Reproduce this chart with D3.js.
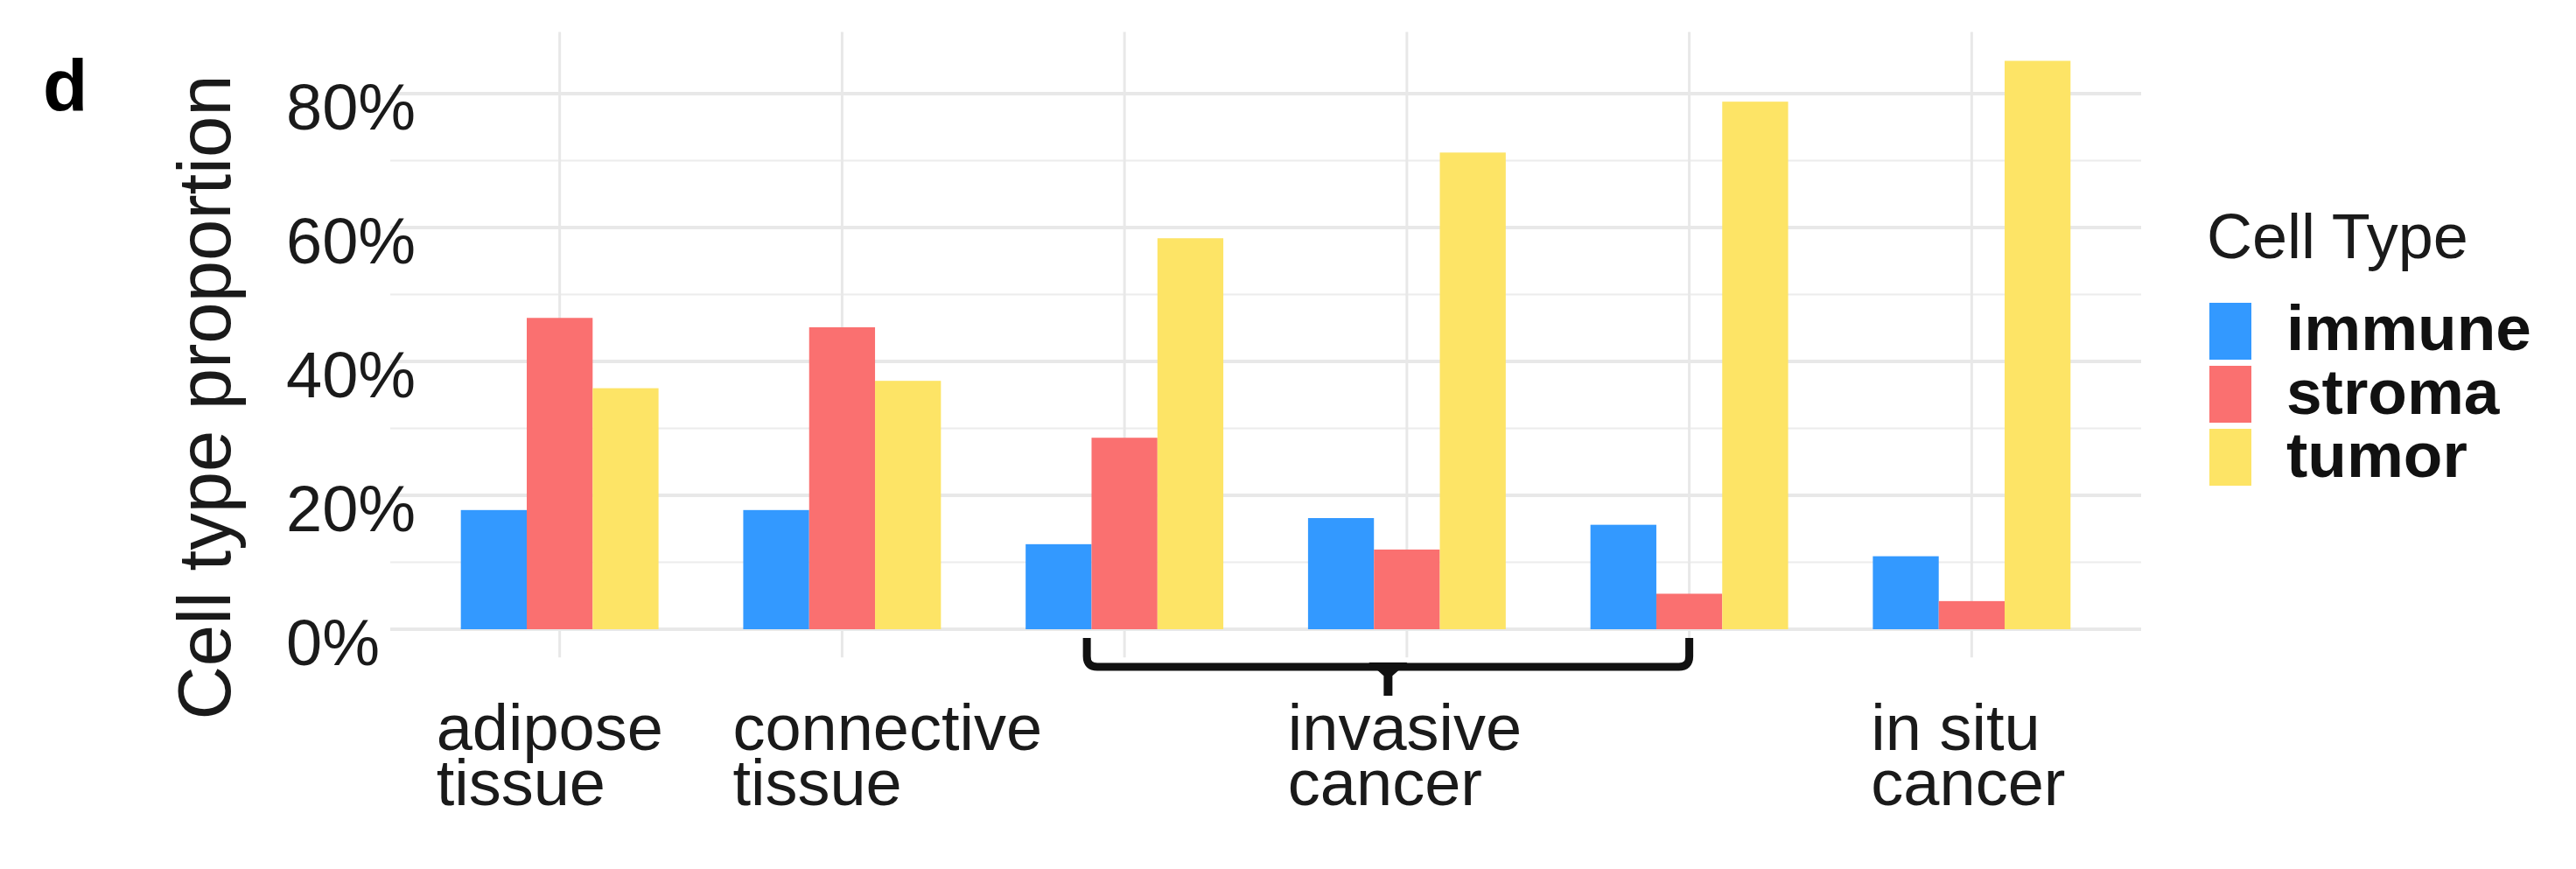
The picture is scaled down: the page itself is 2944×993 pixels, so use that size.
<!DOCTYPE html>
<html><head><meta charset="utf-8">
<script src="https://cdn.jsdelivr.net/npm/d3@7"></script>
<style>html,body{margin:0;padding:0;background:#fff;}svg{display:block;}</style>
</head><body>
<script>
// ---- data ----
const categories = ["adipose tissue", "connective tissue", "invasive cancer 1", "invasive cancer 2", "invasive cancer 3", "in situ cancer"];
const series = ["immune", "stroma", "tumor"];
const immune = [0.178, 0.178, 0.127, 0.166, 0.156, 0.109];
const stroma = [0.465, 0.451, 0.286, 0.119, 0.053, 0.042];
const tumor  = [0.360, 0.371, 0.584, 0.712, 0.788, 0.849];
const colors = ["#3399FF", "#FA7070", "#FDE466"];
const yTicks = [0, 0.2, 0.4, 0.6, 0.8];
const yMinor = [0.1, 0.3, 0.5, 0.7];
const xLabels = [
  {lines: ["adipose", "tissue"], at: "adipose tissue"},
  {lines: ["connective", "tissue"], at: "connective tissue"},
  {lines: ["invasive", "cancer"], at: "invasive cancer 2"},
  {lines: ["in situ", "cancer"], at: "in situ cancer"}
];
const yTitle = "Cell type proportion";
const legendTitle = "Cell Type";
const panelTag = "d";

const W = 2944, H = 993;
const svg = d3.select("body").append("svg").attr("width", W).attr("height", H)
  .style("font-family", "'Liberation Sans', Arial, Helvetica, sans-serif");

const panelL = 446, panelR = 2447;
const x = d3.scaleBand().domain(categories).range([panelL, panelR]).paddingInner(0.3).paddingOuter(0.25);
const xs = d3.scaleBand().domain(series).range([0, x.bandwidth()]);
const y = d3.scaleLinear().domain([0, 0.8]).range([719, 107]);
const panelT = y(0.892), panelB = y(-0.042);
const center = c => x(c) + x.bandwidth() / 2;

const grid = svg.append("g");
grid.selectAll(".mn").data(yMinor).join("line")
  .attr("x1", panelL).attr("x2", panelR).attr("y1", d => y(d)).attr("y2", d => y(d))
  .attr("stroke", "#ECECEC").attr("stroke-width", 2);
grid.selectAll(".mj").data(yTicks).join("line")
  .attr("x1", panelL).attr("x2", panelR).attr("y1", d => y(d)).attr("y2", d => y(d))
  .attr("stroke", "#E8E8E8").attr("stroke-width", 4);
grid.selectAll(".vx").data(categories).join("line")
  .attr("x1", d => center(d)).attr("x2", d => center(d)).attr("y1", panelT).attr("y2", panelB)
  .attr("stroke", "#E8E8E8").attr("stroke-width", 3);

const valuesBySeries = {immune, stroma, tumor};
const color = d3.scaleOrdinal().domain(series).range(colors);
const bars = [];
categories.forEach((c, i) => series.forEach(s => bars.push({c, s, v: valuesBySeries[s][i]})));
svg.append("g").selectAll("rect").data(bars).join("rect")
  .attr("x", d => x(d.c) + xs(d.s)).attr("width", xs.bandwidth())
  .attr("y", d => y(d.v)).attr("height", d => y(0) - y(d.v))
  .attr("fill", d => color(d.s));

// y tick labels (left aligned)
svg.append("g").selectAll("text").data(yTicks).join("text")
  .attr("x", 327).attr("y", d => y(d) + 15).attr("dominant-baseline", "central")
  .attr("font-size", 74).attr("fill", "#1a1a1a")
  .text(d => d3.format(".0%")(d));

// y title
svg.append("text").attr("transform", `translate(263,454) rotate(-90)`)
  .attr("text-anchor", "middle").attr("font-size", 85).attr("fill", "#1a1a1a").text(yTitle);

// panel tag
svg.append("text").attr("x", 49).attr("y", 127).attr("font-size", 84).attr("font-weight", "bold").text(panelTag);

// x labels
const xOffsets = {"adipose tissue": -141, "connective tissue": -125, "invasive cancer 2": -136, "in situ cancer": -115};
xLabels.forEach(l => {
  const t = svg.append("text").attr("font-size", 74).attr("fill", "#1a1a1a");
  l.lines.forEach((ln, k) => t.append("tspan").attr("x", center(l.at) + xOffsets[l.at]).attr("y", 857 + k * 63).text(ln));
});

// bracket
const bl = center("invasive cancer 1") - 43, br = center("invasive cancer 3"), bm = (bl + br) / 2;
const by = 762, btop = 729;
svg.append("path")
  .attr("d", `M${bl},${btop} V${by - 12} Q${bl},${by} ${bl + 12},${by} H${br - 12} Q${br},${by} ${br},${by - 12} V${btop}`)
  .attr("fill", "none").attr("stroke", "#111").attr("stroke-width", 9).attr("stroke-linejoin", "round");
svg.append("path").attr("d", `M${bm - 9},${by} L${bm},${by + 8} L${bm + 9},${by} Z M${bm},${by} V${by + 33}`)
  .attr("fill", "#111").attr("stroke", "#111").attr("stroke-width", 10);

// legend
const lg = svg.append("g");
lg.append("text").attr("x", 2522).attr("y", 295).attr("font-size", 72).attr("fill", "#1a1a1a").text(legendTitle);
series.forEach((s, i) => {
  lg.append("rect").attr("x", 2525).attr("y", 346 + i * 72).attr("width", 48).attr("height", 65).attr("fill", color(s));
  lg.append("text").attr("x", 2613).attr("y", 400 + i * 72.5).attr("font-size", 73).attr("font-weight", "bold")
    .attr("fill", "#111").text(s);
});
</script>
</body></html>
